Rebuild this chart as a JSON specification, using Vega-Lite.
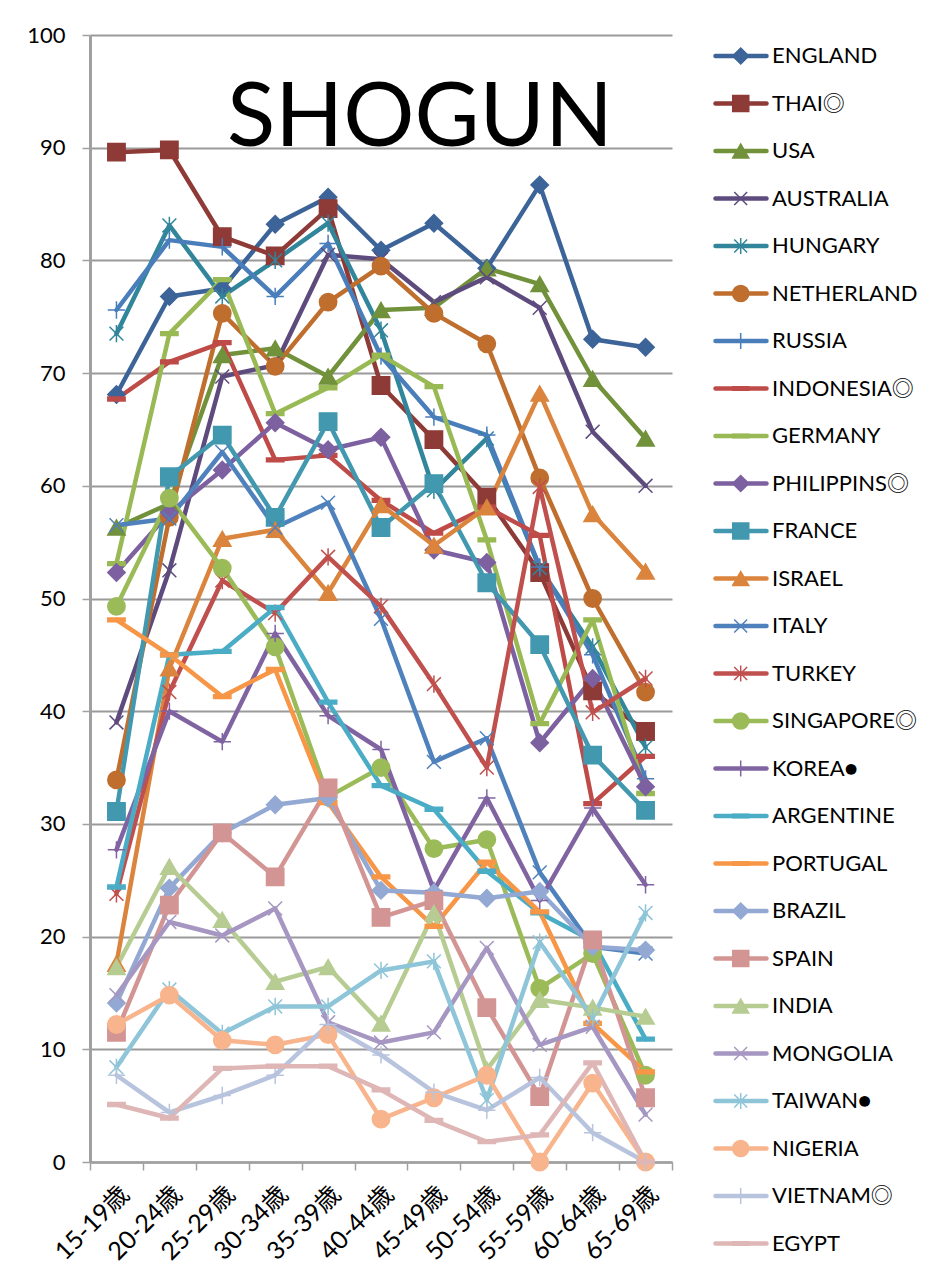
{
  "$schema": "https://vega.github.io/schema/vega-lite/v6.json",
  "width": 582,
  "height": 1127,
  "autosize": "none",
  "padding": {"left": 90, "top": 35, "right": 273, "bottom": 119},
  "background": "white",
  "config": {
    "view": {"stroke": null},
    "font": "Lato, 'Noto Sans CJK JP', sans-serif"
  },
  "title": {
    "text": "SHOGUN",
    "font": "Lato",
    "fontSize": 89,
    "fontWeight": "normal",
    "color": "black",
    "anchor": "middle",
    "frame": "group",
    "baseline": "alphabetic",
    "offset": -211,
    "dx": 39
  },
  "data": {
    "values": [
      {"c":"ENGLAND","a":"15-19歳","v":68.1},{"c":"ENGLAND","a":"20-24歳","v":76.8},{"c":"ENGLAND","a":"25-29歳","v":77.5},{"c":"ENGLAND","a":"30-34歳","v":83.2},{"c":"ENGLAND","a":"35-39歳","v":85.6},{"c":"ENGLAND","a":"40-44歳","v":80.9},{"c":"ENGLAND","a":"45-49歳","v":83.3},{"c":"ENGLAND","a":"50-54歳","v":79.3},{"c":"ENGLAND","a":"55-59歳","v":86.7},{"c":"ENGLAND","a":"60-64歳","v":73.0},{"c":"ENGLAND","a":"65-69歳","v":72.3},
      {"c":"THAI◎","a":"15-19歳","v":89.6},{"c":"THAI◎","a":"20-24歳","v":89.8},{"c":"THAI◎","a":"25-29歳","v":82.1},{"c":"THAI◎","a":"30-34歳","v":80.4},{"c":"THAI◎","a":"35-39歳","v":84.6},{"c":"THAI◎","a":"40-44歳","v":68.9},{"c":"THAI◎","a":"45-49歳","v":64.1},{"c":"THAI◎","a":"50-54歳","v":59.0},{"c":"THAI◎","a":"55-59歳","v":52.3},{"c":"THAI◎","a":"60-64歳","v":41.8},{"c":"THAI◎","a":"65-69歳","v":38.2},
      {"c":"USA","a":"15-19歳","v":56.3},{"c":"USA","a":"20-24歳","v":58.4},{"c":"USA","a":"25-29歳","v":71.6},{"c":"USA","a":"30-34歳","v":72.2},{"c":"USA","a":"35-39歳","v":69.7},{"c":"USA","a":"40-44歳","v":75.6},{"c":"USA","a":"45-49歳","v":75.8},{"c":"USA","a":"50-54歳","v":79.3},{"c":"USA","a":"55-59歳","v":77.9},{"c":"USA","a":"60-64歳","v":69.5},{"c":"USA","a":"65-69歳","v":64.2},
      {"c":"AUSTRALIA","a":"15-19歳","v":39.0},{"c":"AUSTRALIA","a":"20-24歳","v":52.5},{"c":"AUSTRALIA","a":"25-29歳","v":69.7},{"c":"AUSTRALIA","a":"30-34歳","v":70.7},{"c":"AUSTRALIA","a":"35-39歳","v":80.5},{"c":"AUSTRALIA","a":"40-44歳","v":80.1},{"c":"AUSTRALIA","a":"45-49歳","v":76.3},{"c":"AUSTRALIA","a":"50-54歳","v":78.5},{"c":"AUSTRALIA","a":"55-59歳","v":75.8},{"c":"AUSTRALIA","a":"60-64歳","v":64.8},{"c":"AUSTRALIA","a":"65-69歳","v":60.0},
      {"c":"HUNGARY","a":"15-19歳","v":73.5},{"c":"HUNGARY","a":"20-24歳","v":83.1},{"c":"HUNGARY","a":"25-29歳","v":76.8},{"c":"HUNGARY","a":"30-34歳","v":80.0},{"c":"HUNGARY","a":"35-39歳","v":83.3},{"c":"HUNGARY","a":"40-44歳","v":73.8},{"c":"HUNGARY","a":"45-49歳","v":59.6},{"c":"HUNGARY","a":"50-54歳","v":64.2},{"c":"HUNGARY","a":"55-59歳","v":52.7},{"c":"HUNGARY","a":"60-64歳","v":45.7},{"c":"HUNGARY","a":"65-69歳","v":36.8},
      {"c":"NETHERLAND","a":"15-19歳","v":33.9},{"c":"NETHERLAND","a":"20-24歳","v":57.2},{"c":"NETHERLAND","a":"25-29歳","v":75.3},{"c":"NETHERLAND","a":"30-34歳","v":70.6},{"c":"NETHERLAND","a":"35-39歳","v":76.3},{"c":"NETHERLAND","a":"40-44歳","v":79.5},{"c":"NETHERLAND","a":"45-49歳","v":75.3},{"c":"NETHERLAND","a":"50-54歳","v":72.6},{"c":"NETHERLAND","a":"55-59歳","v":60.7},{"c":"NETHERLAND","a":"60-64歳","v":50.0},{"c":"NETHERLAND","a":"65-69歳","v":41.7},
      {"c":"RUSSIA","a":"15-19歳","v":75.6},{"c":"RUSSIA","a":"20-24歳","v":81.8},{"c":"RUSSIA","a":"25-29歳","v":81.2},{"c":"RUSSIA","a":"30-34歳","v":76.8},{"c":"RUSSIA","a":"35-39歳","v":81.5},{"c":"RUSSIA","a":"40-44歳","v":71.5},{"c":"RUSSIA","a":"45-49歳","v":66.1},{"c":"RUSSIA","a":"50-54歳","v":64.5},{"c":"RUSSIA","a":"55-59歳","v":52.8},{"c":"RUSSIA","a":"60-64歳","v":45.0},{"c":"RUSSIA","a":"65-69歳","v":34.0},
      {"c":"INDONESIA◎","a":"15-19歳","v":67.7},{"c":"INDONESIA◎","a":"20-24歳","v":71.0},{"c":"INDONESIA◎","a":"25-29歳","v":72.7},{"c":"INDONESIA◎","a":"30-34歳","v":62.3},{"c":"INDONESIA◎","a":"35-39歳","v":62.7},{"c":"INDONESIA◎","a":"40-44歳","v":58.7},{"c":"INDONESIA◎","a":"45-49歳","v":55.8},{"c":"INDONESIA◎","a":"50-54歳","v":58.1},{"c":"INDONESIA◎","a":"55-59歳","v":55.6},{"c":"INDONESIA◎","a":"60-64歳","v":31.8},{"c":"INDONESIA◎","a":"65-69歳","v":36.0},
      {"c":"GERMANY","a":"15-19歳","v":53.1},{"c":"GERMANY","a":"20-24歳","v":73.5},{"c":"GERMANY","a":"25-29歳","v":78.3},{"c":"GERMANY","a":"30-34歳","v":66.4},{"c":"GERMANY","a":"35-39歳","v":68.7},{"c":"GERMANY","a":"40-44歳","v":71.6},{"c":"GERMANY","a":"45-49歳","v":68.8},{"c":"GERMANY","a":"50-54歳","v":55.2},{"c":"GERMANY","a":"55-59歳","v":38.9},{"c":"GERMANY","a":"60-64歳","v":48.1},{"c":"GERMANY","a":"65-69歳","v":32.7},
      {"c":"PHILIPPINS◎","a":"15-19歳","v":52.3},{"c":"PHILIPPINS◎","a":"20-24歳","v":57.6},{"c":"PHILIPPINS◎","a":"25-29歳","v":61.4},{"c":"PHILIPPINS◎","a":"30-34歳","v":65.6},{"c":"PHILIPPINS◎","a":"35-39歳","v":63.2},{"c":"PHILIPPINS◎","a":"40-44歳","v":64.3},{"c":"PHILIPPINS◎","a":"45-49歳","v":54.3},{"c":"PHILIPPINS◎","a":"50-54歳","v":53.2},{"c":"PHILIPPINS◎","a":"55-59歳","v":37.2},{"c":"PHILIPPINS◎","a":"60-64歳","v":42.9},{"c":"PHILIPPINS◎","a":"65-69歳","v":33.3},
      {"c":"FRANCE","a":"15-19歳","v":31.1},{"c":"FRANCE","a":"20-24歳","v":60.8},{"c":"FRANCE","a":"25-29歳","v":64.5},{"c":"FRANCE","a":"30-34歳","v":57.2},{"c":"FRANCE","a":"35-39歳","v":65.7},{"c":"FRANCE","a":"40-44歳","v":56.3},{"c":"FRANCE","a":"45-49歳","v":60.2},{"c":"FRANCE","a":"50-54歳","v":51.4},{"c":"FRANCE","a":"55-59歳","v":45.9},{"c":"FRANCE","a":"60-64歳","v":36.1},{"c":"FRANCE","a":"65-69歳","v":31.2},
      {"c":"ISRAEL","a":"15-19歳","v":17.6},{"c":"ISRAEL","a":"20-24歳","v":43.8},{"c":"ISRAEL","a":"25-29歳","v":55.3},{"c":"ISRAEL","a":"30-34歳","v":56.1},{"c":"ISRAEL","a":"35-39歳","v":50.5},{"c":"ISRAEL","a":"40-44歳","v":58.3},{"c":"ISRAEL","a":"45-49歳","v":54.7},{"c":"ISRAEL","a":"50-54歳","v":58.1},{"c":"ISRAEL","a":"55-59歳","v":68.2},{"c":"ISRAEL","a":"60-64歳","v":57.5},{"c":"ISRAEL","a":"65-69歳","v":52.4},
      {"c":"ITALY","a":"15-19歳","v":56.5},{"c":"ITALY","a":"20-24歳","v":57.1},{"c":"ITALY","a":"25-29歳","v":63.0},{"c":"ITALY","a":"30-34歳","v":56.3},{"c":"ITALY","a":"35-39歳","v":58.5},{"c":"ITALY","a":"40-44歳","v":48.2},{"c":"ITALY","a":"45-49歳","v":35.5},{"c":"ITALY","a":"50-54歳","v":37.6},{"c":"ITALY","a":"55-59歳","v":25.7},{"c":"ITALY","a":"60-64歳","v":19.1},{"c":"ITALY","a":"65-69歳","v":18.5},
      {"c":"TURKEY","a":"15-19歳","v":23.8},{"c":"TURKEY","a":"20-24歳","v":41.7},{"c":"TURKEY","a":"25-29歳","v":51.6},{"c":"TURKEY","a":"30-34歳","v":48.7},{"c":"TURKEY","a":"35-39歳","v":53.7},{"c":"TURKEY","a":"40-44歳","v":49.3},{"c":"TURKEY","a":"45-49歳","v":42.4},{"c":"TURKEY","a":"50-54歳","v":35.0},{"c":"TURKEY","a":"55-59歳","v":59.9},{"c":"TURKEY","a":"60-64歳","v":39.9},{"c":"TURKEY","a":"65-69歳","v":42.9},
      {"c":"SINGAPORE◎","a":"15-19歳","v":49.3},{"c":"SINGAPORE◎","a":"20-24歳","v":58.9},{"c":"SINGAPORE◎","a":"25-29歳","v":52.7},{"c":"SINGAPORE◎","a":"30-34歳","v":45.7},{"c":"SINGAPORE◎","a":"35-39歳","v":32.4},{"c":"SINGAPORE◎","a":"40-44歳","v":35.0},{"c":"SINGAPORE◎","a":"45-49歳","v":27.8},{"c":"SINGAPORE◎","a":"50-54歳","v":28.6},{"c":"SINGAPORE◎","a":"55-59歳","v":15.4},{"c":"SINGAPORE◎","a":"60-64歳","v":18.5},{"c":"SINGAPORE◎","a":"65-69歳","v":7.7},
      {"c":"KOREA●","a":"15-19歳","v":27.7},{"c":"KOREA●","a":"20-24歳","v":40.0},{"c":"KOREA●","a":"25-29歳","v":37.3},{"c":"KOREA●","a":"30-34歳","v":46.9},{"c":"KOREA●","a":"35-39歳","v":39.6},{"c":"KOREA●","a":"40-44歳","v":36.6},{"c":"KOREA●","a":"45-49歳","v":24.1},{"c":"KOREA●","a":"50-54歳","v":32.3},{"c":"KOREA●","a":"55-59歳","v":23.2},{"c":"KOREA●","a":"60-64歳","v":31.4},{"c":"KOREA●","a":"65-69歳","v":24.6},
      {"c":"ARGENTINE","a":"15-19歳","v":24.4},{"c":"ARGENTINE","a":"20-24歳","v":45.0},{"c":"ARGENTINE","a":"25-29歳","v":45.3},{"c":"ARGENTINE","a":"30-34歳","v":49.2},{"c":"ARGENTINE","a":"35-39歳","v":40.8},{"c":"ARGENTINE","a":"40-44歳","v":33.4},{"c":"ARGENTINE","a":"45-49歳","v":31.3},{"c":"ARGENTINE","a":"50-54歳","v":25.8},{"c":"ARGENTINE","a":"55-59歳","v":22.1},{"c":"ARGENTINE","a":"60-64歳","v":19.6},{"c":"ARGENTINE","a":"65-69歳","v":10.9},
      {"c":"PORTUGAL","a":"15-19歳","v":48.1},{"c":"PORTUGAL","a":"20-24歳","v":45.0},{"c":"PORTUGAL","a":"25-29歳","v":41.3},{"c":"PORTUGAL","a":"30-34歳","v":43.7},{"c":"PORTUGAL","a":"35-39歳","v":31.9},{"c":"PORTUGAL","a":"40-44歳","v":25.3},{"c":"PORTUGAL","a":"45-49歳","v":20.9},{"c":"PORTUGAL","a":"50-54歳","v":26.6},{"c":"PORTUGAL","a":"55-59歳","v":22.2},{"c":"PORTUGAL","a":"60-64歳","v":12.3},{"c":"PORTUGAL","a":"65-69歳","v":8.0},
      {"c":"BRAZIL","a":"15-19歳","v":14.1},{"c":"BRAZIL","a":"20-24歳","v":24.3},{"c":"BRAZIL","a":"25-29歳","v":29.2},{"c":"BRAZIL","a":"30-34歳","v":31.7},{"c":"BRAZIL","a":"35-39歳","v":32.3},{"c":"BRAZIL","a":"40-44歳","v":24.1},{"c":"BRAZIL","a":"45-49歳","v":23.9},{"c":"BRAZIL","a":"50-54歳","v":23.4},{"c":"BRAZIL","a":"55-59歳","v":24.0},{"c":"BRAZIL","a":"60-64歳","v":19.1},{"c":"BRAZIL","a":"65-69歳","v":18.8},
      {"c":"SPAIN","a":"15-19歳","v":11.5},{"c":"SPAIN","a":"20-24歳","v":22.8},{"c":"SPAIN","a":"25-29歳","v":29.2},{"c":"SPAIN","a":"30-34歳","v":25.3},{"c":"SPAIN","a":"35-39歳","v":33.2},{"c":"SPAIN","a":"40-44歳","v":21.7},{"c":"SPAIN","a":"45-49歳","v":23.2},{"c":"SPAIN","a":"50-54歳","v":13.7},{"c":"SPAIN","a":"55-59歳","v":5.8},{"c":"SPAIN","a":"60-64歳","v":19.7},{"c":"SPAIN","a":"65-69歳","v":5.7},
      {"c":"INDIA","a":"15-19歳","v":17.3},{"c":"INDIA","a":"20-24歳","v":26.2},{"c":"INDIA","a":"25-29歳","v":21.5},{"c":"INDIA","a":"30-34歳","v":16.0},{"c":"INDIA","a":"35-39歳","v":17.3},{"c":"INDIA","a":"40-44歳","v":12.3},{"c":"INDIA","a":"45-49歳","v":22.1},{"c":"INDIA","a":"50-54歳","v":8.2},{"c":"INDIA","a":"55-59歳","v":14.4},{"c":"INDIA","a":"60-64歳","v":13.7},{"c":"INDIA","a":"65-69歳","v":12.9},
      {"c":"MONGOLIA","a":"15-19歳","v":14.8},{"c":"MONGOLIA","a":"20-24歳","v":21.3},{"c":"MONGOLIA","a":"25-29歳","v":20.1},{"c":"MONGOLIA","a":"30-34歳","v":22.5},{"c":"MONGOLIA","a":"35-39歳","v":12.4},{"c":"MONGOLIA","a":"40-44歳","v":10.6},{"c":"MONGOLIA","a":"45-49歳","v":11.5},{"c":"MONGOLIA","a":"50-54歳","v":19.0},{"c":"MONGOLIA","a":"55-59歳","v":10.4},{"c":"MONGOLIA","a":"60-64歳","v":12.0},{"c":"MONGOLIA","a":"65-69歳","v":4.2},
      {"c":"TAIWAN●","a":"15-19歳","v":8.4},{"c":"TAIWAN●","a":"20-24歳","v":15.3},{"c":"TAIWAN●","a":"25-29歳","v":11.4},{"c":"TAIWAN●","a":"30-34歳","v":13.8},{"c":"TAIWAN●","a":"35-39歳","v":13.8},{"c":"TAIWAN●","a":"40-44歳","v":17.0},{"c":"TAIWAN●","a":"45-49歳","v":17.8},{"c":"TAIWAN●","a":"50-54歳","v":5.5},{"c":"TAIWAN●","a":"55-59歳","v":19.5},{"c":"TAIWAN●","a":"60-64歳","v":12.8},{"c":"TAIWAN●","a":"65-69歳","v":22.1},
      {"c":"NIGERIA","a":"15-19歳","v":12.2},{"c":"NIGERIA","a":"20-24歳","v":14.8},{"c":"NIGERIA","a":"25-29歳","v":10.8},{"c":"NIGERIA","a":"30-34歳","v":10.4},{"c":"NIGERIA","a":"35-39歳","v":11.3},{"c":"NIGERIA","a":"40-44歳","v":3.8},{"c":"NIGERIA","a":"45-49歳","v":5.7},{"c":"NIGERIA","a":"50-54歳","v":7.7},{"c":"NIGERIA","a":"55-59歳","v":0},{"c":"NIGERIA","a":"60-64歳","v":7.0},{"c":"NIGERIA","a":"65-69歳","v":0},
      {"c":"VIETNAM◎","a":"15-19歳","v":7.7},{"c":"VIETNAM◎","a":"20-24歳","v":4.4},{"c":"VIETNAM◎","a":"25-29歳","v":5.9},{"c":"VIETNAM◎","a":"30-34歳","v":7.7},{"c":"VIETNAM◎","a":"35-39歳","v":12.2},{"c":"VIETNAM◎","a":"40-44歳","v":9.5},{"c":"VIETNAM◎","a":"45-49歳","v":6.2},{"c":"VIETNAM◎","a":"50-54歳","v":4.6},{"c":"VIETNAM◎","a":"55-59歳","v":7.5},{"c":"VIETNAM◎","a":"60-64歳","v":2.6},{"c":"VIETNAM◎","a":"65-69歳","v":0},
      {"c":"EGYPT","a":"15-19歳","v":5.1},{"c":"EGYPT","a":"20-24歳","v":3.9},{"c":"EGYPT","a":"25-29歳","v":8.3},{"c":"EGYPT","a":"30-34歳","v":8.5},{"c":"EGYPT","a":"35-39歳","v":8.5},{"c":"EGYPT","a":"40-44歳","v":6.4},{"c":"EGYPT","a":"45-49歳","v":3.7},{"c":"EGYPT","a":"50-54歳","v":1.8},{"c":"EGYPT","a":"55-59歳","v":2.4},{"c":"EGYPT","a":"60-64歳","v":8.8},{"c":"EGYPT","a":"65-69歳","v":0}
    ]
  },
  "encoding": {
    "x": {
      "field": "a",
      "type": "ordinal",
      "sort": null,
      "scale": {"type": "band", "paddingInner": 0, "paddingOuter": 0},
      "axis": {
        "title": null,
        "grid": false,
        "labelAngle": -45,
        "labelAlign": "right",
        "labelBaseline": "middle",
        "labelFont": "Lato, 'Noto Sans CJK JP'",
        "labelFontSize": 25,
        "labelColor": "black",
        "labelPadding": 20,
        "labelOffset": 8,
        "domainColor": "#a0a0a0",
        "domainWidth": 2.5,
        "tickBand": "extent",
        "tickColor": "#a0a0a0",
        "tickWidth": 1.5,
        "tickSize": 8
      }
    },
    "y": {
      "field": "v",
      "type": "quantitative",
      "scale": {"domain": [0, 100], "nice": false},
      "axis": {
        "title": null,
        "values": [0, 10, 20, 30, 40, 50, 60, 70, 80, 90, 100],
        "labelFontSize": 22,
        "labelColor": "black",
        "labelPadding": 17,
        "domainColor": "#a0a0a0",
        "domainWidth": 3,
        "tickColor": "#a0a0a0",
        "tickWidth": 1.5,
        "tickSize": 8,
        "gridColor": "#9a9a9a",
        "gridWidth": 2
      }
    }
  },
  "layer": [
    {
      "mark": {"type": "line", "strokeWidth": 4.5, "strokeCap": "round", "strokeJoin": "round"},
      "encoding": {
        "color": {
          "field": "c",
          "type": "nominal",
          "sort": ["ENGLAND","THAI◎","USA","AUSTRALIA","HUNGARY","NETHERLAND","RUSSIA","INDONESIA◎","GERMANY","PHILIPPINS◎","FRANCE","ISRAEL","ITALY","TURKEY","SINGAPORE◎","KOREA●","ARGENTINE","PORTUGAL","BRAZIL","SPAIN","INDIA","MONGOLIA","TAIWAN●","NIGERIA","VIETNAM◎","EGYPT"],
          "scale": {"range": ["#3c6499","#8e3a37","#72913b","#5e4b7d","#31869b","#bf6e2e","#4a7ebb","#be4b48","#98b954","#7d60a0","#4198af","#db843d","#4f81bd","#c0504d","#9bbb59","#8064a2","#4bacc6","#f79646","#93a9d3","#d39594","#b7cc92","#a697c2","#8ec5d8","#f8b48c","#b8c4de","#deb6b5"]},
          "legend": {
            "orient": "none",
            "legendX": 623,
            "legendY": -2.5,
            "title": null,
            "padding": 0,
            "symbolType": "stroke",
            "symbolSize": 2601,
            "symbolStrokeWidth": 4.5,
            "labelFont": "Lato, 'Noto Sans CJK JP'",
            "labelFontSize": 22,
            "labelColor": "black",
            "labelOffset": 3,
            "labelLimit": 300,
            "clipHeight": 47,
            "rowPadding": 0.5,
            "symbolLimit": 30,
            "encode": {"symbols": {"update": {"strokeCap": {"value": "round"}}}}
          }
        }
      }
    },
    {
      "mark": {"type": "point", "filled": true, "size": 300, "strokeWidth": 1.5, "opacity": 1},
      "encoding": {
        "fill": {
          "field": "c",
          "type": "nominal",
          "scale": {
            "domain": ["ENGLAND","THAI◎","USA","AUSTRALIA","HUNGARY","NETHERLAND","RUSSIA","INDONESIA◎","GERMANY","PHILIPPINS◎","FRANCE","ISRAEL","ITALY","TURKEY","SINGAPORE◎","KOREA●","ARGENTINE","PORTUGAL","BRAZIL","SPAIN","INDIA","MONGOLIA","TAIWAN●","NIGERIA","VIETNAM◎","EGYPT"],
            "range": ["#3c6499","#8e3a37","#72913b","#5e4b7d","#31869b","#bf6e2e","#4a7ebb","#be4b48","#98b954","#7d60a0","#4198af","#db843d","#4f81bd","#c0504d","#9bbb59","#8064a2","#4bacc6","#f79646","#93a9d3","#d39594","#b7cc92","#a697c2","#8ec5d8","#f8b48c","#b8c4de","#deb6b5"]
          },
          "legend": {
            "orient": "none",
            "legendX": 641.7,
            "legendY": -2.5,
            "title": null,
            "padding": 0,
            "symbolSize": 260,
            "symbolStrokeWidth": 1.5,
            "symbolOpacity": 1,
            "labelExpr": "''",
            "clipHeight": 47,
            "rowPadding": 0.5,
            "symbolLimit": 30,
            "encode": {"symbols": {"update": {"stroke": {"scale": "stroke", "field": "value"}}}}
          }
        },
        "stroke": {
          "field": "c",
          "type": "nominal",
          "scale": {
            "domain": ["ENGLAND","THAI◎","USA","AUSTRALIA","HUNGARY","NETHERLAND","RUSSIA","INDONESIA◎","GERMANY","PHILIPPINS◎","FRANCE","ISRAEL","ITALY","TURKEY","SINGAPORE◎","KOREA●","ARGENTINE","PORTUGAL","BRAZIL","SPAIN","INDIA","MONGOLIA","TAIWAN●","NIGERIA","VIETNAM◎","EGYPT"],
            "range": ["#3c6499","#8e3a37","#72913b","#5e4b7d","#31869b","#bf6e2e","#4a7ebb","#be4b48","#98b954","#7d60a0","#4198af","#db843d","#4f81bd","#c0504d","#9bbb59","#8064a2","#4bacc6","#f79646","#93a9d3","#d39594","#b7cc92","#a697c2","#8ec5d8","#f8b48c","#b8c4de","#deb6b5"]
          },
          "legend": null
        },
        "shape": {
          "field": "c",
          "type": "nominal",
          "scale": {
            "domain": ["ENGLAND","THAI◎","USA","AUSTRALIA","HUNGARY","NETHERLAND","RUSSIA","INDONESIA◎","GERMANY","PHILIPPINS◎","FRANCE","ISRAEL","ITALY","TURKEY","SINGAPORE◎","KOREA●","ARGENTINE","PORTUGAL","BRAZIL","SPAIN","INDIA","MONGOLIA","TAIWAN●","NIGERIA","VIETNAM◎","EGYPT"],
            "range": [
              "diamond", "square", "triangle-up", "M-0.8,-0.8L0.8,0.8M-0.8,0.8L0.8,-0.8", "M-0.8,-0.8L0.8,0.8M-0.8,0.8L0.8,-0.8M0,-1L0,1", "circle", "M-1,0L1,0M0,-1L0,1", "M-1,-0.22L1,-0.22L1,0.22L-1,0.22Z", "M-1,-0.22L1,-0.22L1,0.22L-1,0.22Z",
              "diamond", "square", "triangle-up", "M-0.8,-0.8L0.8,0.8M-0.8,0.8L0.8,-0.8", "M-0.8,-0.8L0.8,0.8M-0.8,0.8L0.8,-0.8M0,-1L0,1", "circle", "M-1,0L1,0M0,-1L0,1", "M-1,-0.22L1,-0.22L1,0.22L-1,0.22Z", "M-1,-0.22L1,-0.22L1,0.22L-1,0.22Z",
              "diamond", "square", "triangle-up", "M-0.8,-0.8L0.8,0.8M-0.8,0.8L0.8,-0.8", "M-0.8,-0.8L0.8,0.8M-0.8,0.8L0.8,-0.8M0,-1L0,1", "circle", "M-1,0L1,0M0,-1L0,1", "M-1,-0.22L1,-0.22L1,0.22L-1,0.22Z"
            ]
          },
          "legend": {
            "orient": "none",
            "legendX": 641.7,
            "legendY": -2.5,
            "title": null,
            "padding": 0,
            "symbolSize": 260,
            "symbolStrokeWidth": 1.5,
            "symbolOpacity": 1,
            "labelExpr": "''",
            "clipHeight": 47,
            "rowPadding": 0.5,
            "symbolLimit": 30,
            "encode": {"symbols": {"update": {"stroke": {"scale": "stroke", "field": "value"}}}}
          }
        }
      }
    }
  ]
}
